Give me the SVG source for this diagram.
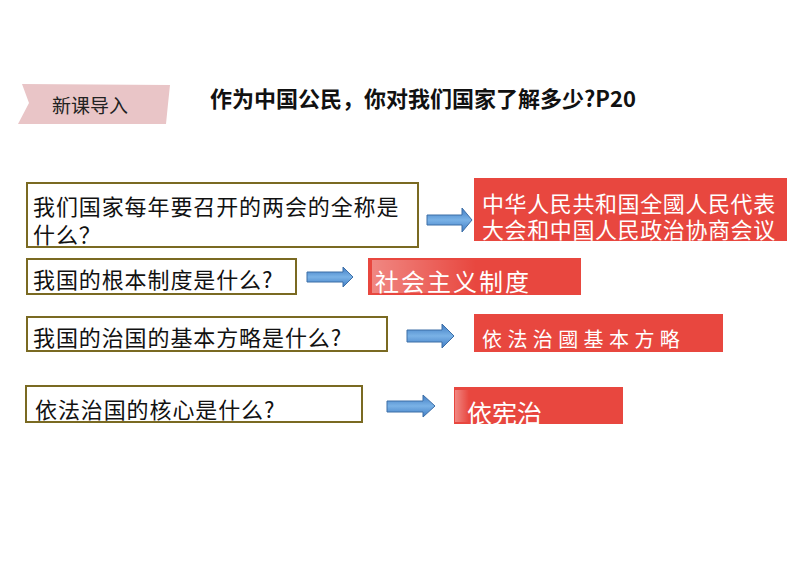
<svg xmlns="http://www.w3.org/2000/svg" width="794" height="561" viewBox="0 0 794 561">
<defs>
<linearGradient id="ag" x1="0" y1="0" x2="0" y2="1">
<stop offset="0" stop-color="#3f7cc4"/>
<stop offset="0.5" stop-color="#7ab2e6"/>
<stop offset="1" stop-color="#3f7cc4"/>
</linearGradient>
<linearGradient id="fade" x1="0" y1="0" x2="1" y2="0">
<stop offset="0" stop-color="#ffffff" stop-opacity="0.35"/>
<stop offset="1" stop-color="#ffffff" stop-opacity="0"/>
</linearGradient>
<clipPath id="c4"><rect x="454" y="387" width="169" height="37"/></clipPath>
</defs>
<style>
.q{fill:#ffffff;stroke:#7a6a22;stroke-width:2}
.qt{font-family:"Noto Sans CJK SC","Noto Sans",sans-serif;font-size:22px;fill:#111;letter-spacing:0.9px}
.a{fill:url(#ag);stroke:#3d6ea6;stroke-width:1}
.r{fill:#e8473f}
.rt{font-family:"Noto Sans CJK SC","Noto Sans",sans-serif;fill:#ffffff}
</style>
<rect width="794" height="561" fill="#ffffff"/>
<g id="banner">
<path d="M22,84 L170,85 L168,104 L166,124 L18,124 L29,103 Z" fill="#e9c5c7"/>
<text x="52" y="113" font-family="Noto Sans CJK SC,sans-serif" font-size="19" fill="#222">新课导入</text>
</g>
<g id="title">
<text x="210" y="107" font-family="Noto Sans CJK SC,sans-serif" font-size="22" font-weight="bold" fill="#111">作为中国公民，你对我们国家了解多少?P20</text>
</g>
<g id="q1">
<rect class="q" x="27" y="183" width="391" height="64"/>
<text class="qt"><tspan x="33" y="215">我们国家每年要召开的两会的全称是</tspan><tspan x="33" y="243">什么？</tspan></text>
</g>
<g id="q2">
<rect class="q" x="27" y="259" width="269" height="35"/>
<text class="qt" x="33" y="288">我国的根本制度是什么?</text>
</g>
<g id="q3">
<rect class="q" x="27" y="317" width="360" height="34"/>
<text class="qt" x="33" y="346">我国的治国的基本方略是什么?</text>
</g>
<g id="q4">
<rect class="q" x="26" y="386" width="336" height="36"/>
<text class="qt" x="35" y="418">依法治国的核心是什么?</text>
</g>
<g id="a1">
<rect class="r" x="474" y="178" width="313" height="63"/>
<text class="rt" font-size="22" letter-spacing="0.6"><tspan x="482" y="212">中华人民共和国全國人民代表</tspan><tspan x="482" y="238">大会和中国人民政治协商会议</tspan></text>
</g>
<g id="a2">
<rect class="r" x="368" y="258" width="213" height="37"/>
<rect x="372" y="260" width="104" height="33" fill="url(#fade)"/>
<text class="rt" x="375" y="291" font-size="24" letter-spacing="2">社会主义制度</text>
</g>
<g id="a3">
<rect class="r" x="474" y="314" width="249" height="38"/>
<text class="rt" x="482" y="347" font-size="20" letter-spacing="5.4">依法治國基本方略</text>
</g>
<g id="a4">
<rect class="r" x="454" y="387" width="169" height="37"/>
<rect x="455" y="390" width="14" height="32" fill="url(#fade)"/>
<text class="rt" x="467" y="423" font-size="25" clip-path="url(#c4)">依宪治</text>
</g>
<g id="connectors">
<path class="a" d="M427,215 L462,215 L462,208 L472,220 L462,232 L462,225 L427,225 Z"/>
<path class="a" d="M307,272 L343,272 L343,267 L353,277 L343,287 L343,282 L307,282 Z"/>
<path class="a" d="M407,330 L442,330 L442,324 L454,336 L442,348 L442,342 L407,342 Z"/>
<path class="a" d="M387,401 L423,401 L423,395 L435,406 L423,417 L423,412 L387,412 Z"/>
</g>
</svg>
